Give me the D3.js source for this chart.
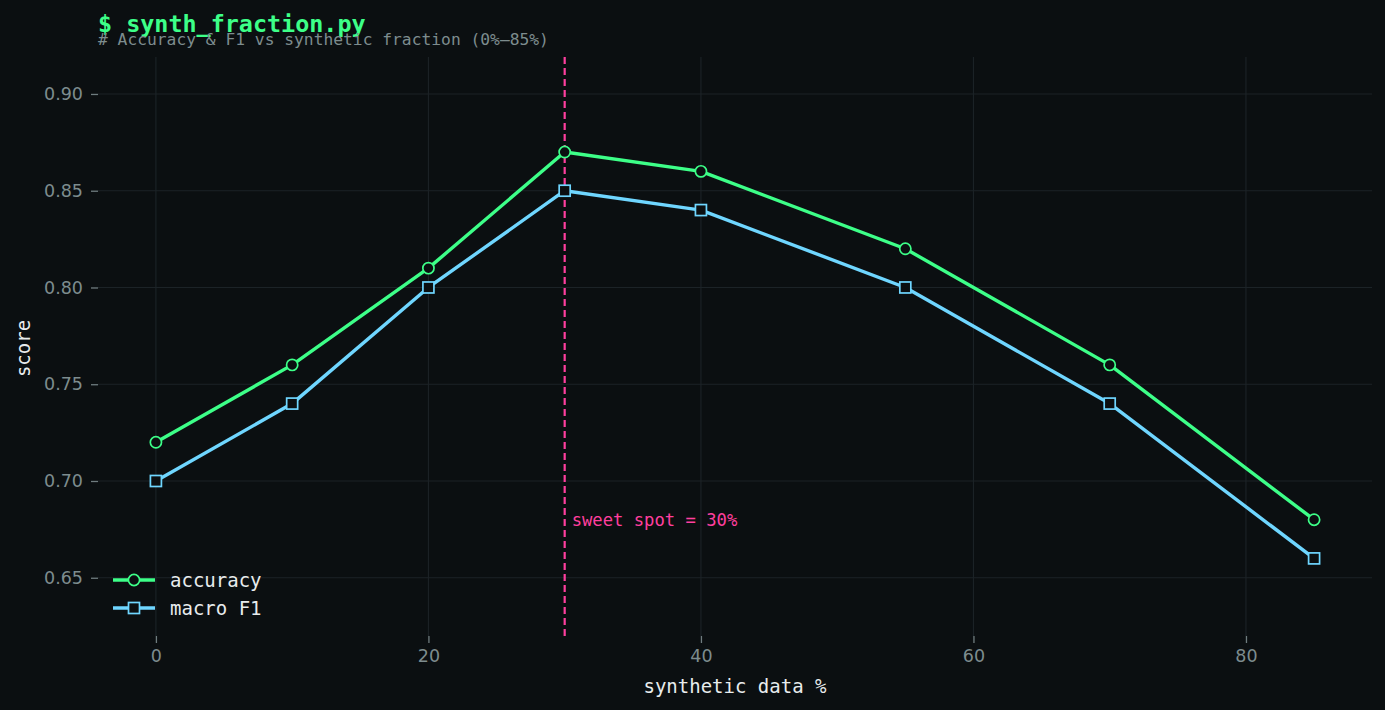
<!DOCTYPE html>
<html><head><meta charset="utf-8">
<script src="https://cdn.jsdelivr.net/npm/d3@7"></script>
<style>
html,body{margin:0;padding:0;background:#0b0f11;}
svg{display:block;}
</style></head>
<body>
<svg id="c" width="1385" height="710"></svg>
<script>
const fractions = [0, 10, 20, 30, 40, 55, 70, 85];
const accuracy = [0.72, 0.76, 0.81, 0.87, 0.86, 0.82, 0.76, 0.68];
const macroF1 = [0.70, 0.74, 0.80, 0.85, 0.84, 0.80, 0.74, 0.66];
const xTicks = [0, 20, 40, 60, 80];
const yTicks = [0.65, 0.70, 0.75, 0.80, 0.85, 0.90];
const sweetSpot = 30;

const W = 1385, H = 710;
const m = {l: 98, r: 13, t: 57, b: 74};
const svg = d3.select("#c");
svg.append("rect").attr("width", W).attr("height", H).attr("fill", "#0b0f11");

const x = d3.scaleLinear().domain([-4.25, 89.25]).range([m.l, W - m.r]);
const y = d3.scaleLinear().domain([0.6199, 0.9191]).range([H - m.b, m.t]);

const mono = "'DejaVu Sans Mono', monospace";
const sans = "'DejaVu Sans', sans-serif";

// grid
const g = svg.append("g");
g.selectAll(".gx").data(xTicks).join("line")
  .attr("x1", d => x(d)).attr("x2", d => x(d)).attr("y1", m.t).attr("y2", H - m.b)
  .attr("stroke", "#1c2327").attr("stroke-width", 1.1);
g.selectAll(".gy").data(yTicks).join("line")
  .attr("x1", m.l).attr("x2", W - m.r).attr("y1", d => y(d)).attr("y2", d => y(d))
  .attr("stroke", "#1c2327").attr("stroke-width", 1.1);

// axes
const xa = svg.append("g").attr("transform", `translate(0,${H - m.b})`)
  .call(d3.axisBottom(x).tickValues(xTicks).tickSize(7).tickPadding(7).tickFormat(d3.format("d")));
const ya = svg.append("g").attr("transform", `translate(${m.l},0)`)
  .call(d3.axisLeft(y).tickValues(yTicks).tickSize(7).tickPadding(8).tickFormat(d3.format(".2f")));
[xa, ya].forEach(a => {
  a.select(".domain").remove();
  a.selectAll(".tick line").attr("stroke", "#6f7c7f").attr("stroke-width", 1.3);
  a.selectAll(".tick text").attr("fill", "#7d8c8e").attr("font-family", sans).attr("font-size", 17.5);
});

// axis labels
svg.append("text").attr("x", (m.l + W - m.r) / 2).attr("y", 693).attr("text-anchor", "middle")
  .attr("fill", "#e8eced").attr("font-family", mono).attr("font-size", 19).text("synthetic data %");
svg.append("text").attr("transform", `translate(30,${(m.t + H - m.b) / 2 + 2}) rotate(-90)`)
  .attr("text-anchor", "middle").attr("fill", "#e8eced").attr("font-family", mono).attr("font-size", 19).text("score");

// sweet spot line
svg.append("line").attr("x1", x(sweetSpot)).attr("x2", x(sweetSpot)).attr("y1", m.t).attr("y2", H - m.b)
  .attr("stroke", "#ff3f9f").attr("stroke-width", 2.2).attr("stroke-dasharray", "7,4");
svg.append("text").attr("x", x(sweetSpot) + 7).attr("y", y(0.68) + 6)
  .attr("fill", "#ff3f9f").attr("font-family", mono).attr("font-size", 17.2).text("sweet spot = 30%");

// series
const accColor = "#3dff88", f1Color = "#6fd6ff";
const line = d3.line().x(d => x(d[0])).y(d => y(d[1]));
const accData = fractions.map((f, i) => [f, accuracy[i]]);
const f1Data = fractions.map((f, i) => [f, macroF1[i]]);

svg.append("path").datum(accData).attr("d", line).attr("fill", "none")
  .attr("stroke", accColor).attr("stroke-width", 3.4).attr("stroke-linejoin", "round");
svg.append("path").datum(f1Data).attr("d", line).attr("fill", "none")
  .attr("stroke", f1Color).attr("stroke-width", 3.4).attr("stroke-linejoin", "round");

svg.selectAll(".acc").data(accData).join("circle")
  .attr("cx", d => x(d[0])).attr("cy", d => y(d[1])).attr("r", 5.6)
  .attr("fill", "#0b0f11").attr("stroke", accColor).attr("stroke-width", 1.7);
const s = 11;
svg.selectAll(".f1").data(f1Data).join("rect")
  .attr("x", d => x(d[0]) - s / 2).attr("y", d => y(d[1]) - s / 2).attr("width", s).attr("height", s)
  .attr("fill", "#0b0f11").attr("stroke", f1Color).attr("stroke-width", 1.7);

// legend
const leg = svg.append("g");
const items = [["accuracy", accColor, "circle"], ["macro F1", f1Color, "square"]];
items.forEach((it, i) => {
  const ly = 580 + i * 28;
  leg.append("line").attr("x1", 113).attr("x2", 155).attr("y1", ly).attr("y2", ly)
    .attr("stroke", it[1]).attr("stroke-width", 3.4);
  if (it[2] === "circle") {
    leg.append("circle").attr("cx", 134).attr("cy", ly).attr("r", 5.6)
      .attr("fill", "#0b0f11").attr("stroke", it[1]).attr("stroke-width", 1.7);
  } else {
    leg.append("rect").attr("x", 134 - s / 2).attr("y", ly - s / 2).attr("width", s).attr("height", s)
      .attr("fill", "#0b0f11").attr("stroke", it[1]).attr("stroke-width", 1.7);
  }
  leg.append("text").attr("x", 170).attr("y", ly + 6.5).attr("fill", "#e8eced")
    .attr("font-family", mono).attr("font-size", 19).text(it[0]);
});

// title
svg.append("text").attr("x", 98).attr("y", 32).attr("fill", accColor)
  .attr("font-family", mono).attr("font-weight", "bold").attr("font-size", 23.4).text("$ synth_fraction.py");
svg.append("text").attr("x", 98).attr("y", 45).attr("fill", "#7d8c8e")
  .attr("font-family", mono).attr("font-size", 16.3).text("# Accuracy & F1 vs synthetic fraction (0%–85%)");
</script>
</body></html>
